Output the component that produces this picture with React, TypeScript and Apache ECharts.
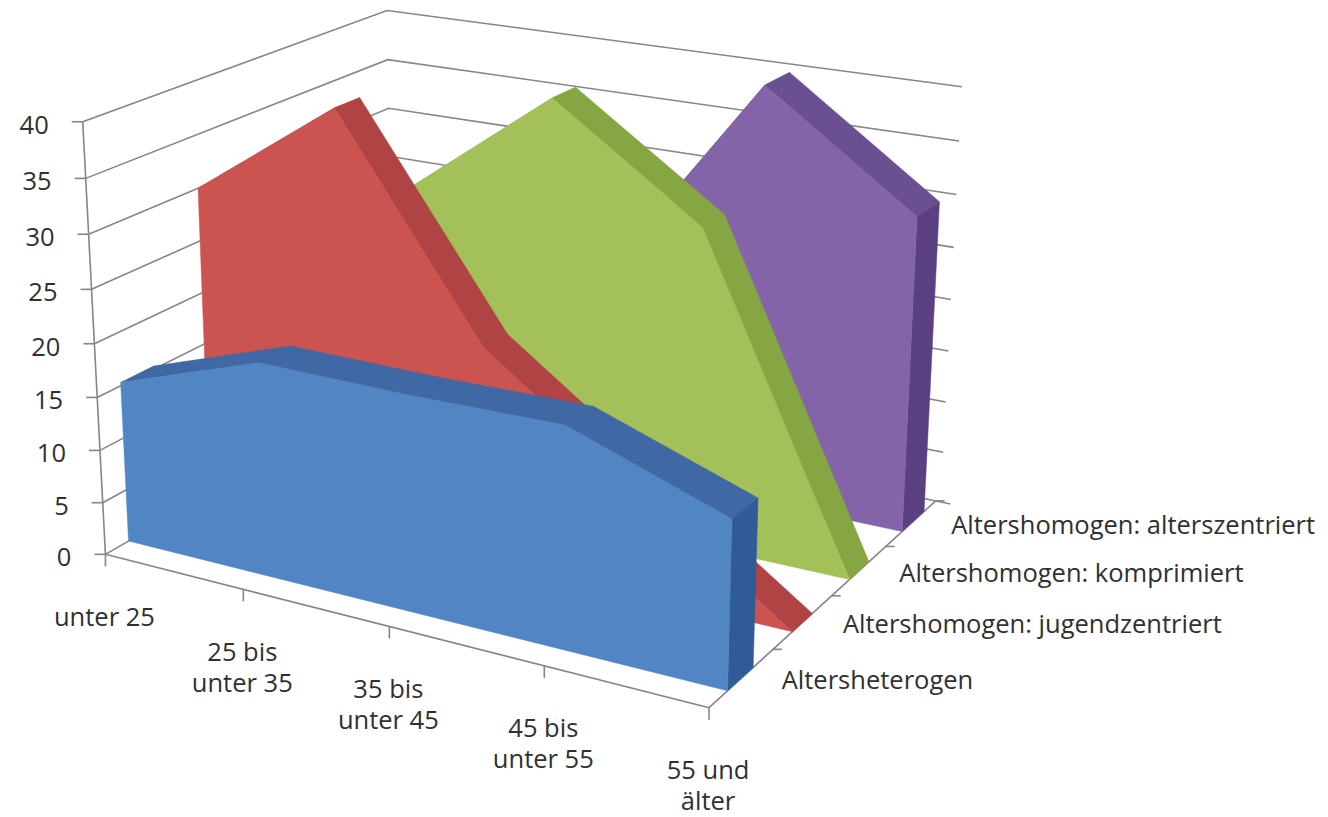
import React, { useEffect, useRef } from "react";
import * as echarts from "echarts";

const categories = ["unter 25", "25 bis\nunter 35", "35 bis\nunter 45", "45 bis\nunter 55", "55 und\nälter"];
const valueTicks = [0, 5, 10, 15, 20, 25, 30, 35, 40];
const seriesNames = [
  "Altersheterogen",
  "Altershomogen: jugendzentriert",
  "Altershomogen: komprimiert",
  "Altershomogen: alterszentriert",
];
const heterogen = [15.3, 19.9, 19.8, 20, 15];
const jugendzentriert = [30, 39.5, 20, 10, 0];
const komprimiert = [20, 29.1, 39.6, 30, 0];
const alterszentriert = [18, 20, 21, 40, 30];
const seriesValues = [heterogen, jugendzentriert, komprimiert, alterszentriert];

// Styling and view calibration (not data)
const frontColors = ["#5185C4", "#CB5350", "#A3C158", "#8364A8"];
const topColors = ["#3F68A5", "#B04343", "#86A543", "#6A5090"];
const sideColors = ["#2F5C97", "#C83A38", "#86A543", "#5A4080"];
const depthBands = [[0.07, 0.17], [0.33, 0.415], [0.58, 0.67], [0.83, 0.94]];
const AXIS_COLOR = "#868686";
const TEXT_COLOR = "#303030";
const FONT = "Open Sans";
const FONT_SIZE = 25.5;
const LINE_HEIGHT = 31;
const VMAX = 40;
const anchors: number[][] = [
  [0, 0, 0, 106, 554],
  [1, 0, 0, 710, 707],
  [0.5, 0, 0, 389, 627],
  [1, 1, 0, 935, 503],
  [0, 0, 1, 82, 123],
  [0, 0, 0.5, 94, 343],
  [0, 1, 1, 388, 10],
  [0, 1, 0.875, 388, 60],
  [0, 1, 0.75, 388, 108],
  [1, 1, 1, 957, 87],
  [1, 1, 0.5, 946, 296],
];

function solveProjection(): number[] {
  const rows: number[][] = [];
  const rhs: number[] = [];
  anchors.forEach(([u, d, v, x, y]) => {
    rows.push([u, d, v, 1, 0, 0, 0, 0, -x * u, -x * d, -x * v]);
    rhs.push(x);
    rows.push([0, 0, 0, 0, u, d, v, 1, -y * u, -y * d, -y * v]);
    rhs.push(y);
  });
  const n = 11;
  const m: number[][] = [];
  for (let i = 0; i < n; i++) {
    const r: number[] = [];
    for (let j = 0; j < n; j++) {
      let s = 0;
      rows.forEach((row) => (s += row[i] * row[j]));
      r.push(s);
    }
    let b = 0;
    rows.forEach((row, k) => (b += row[i] * rhs[k]));
    r.push(b);
    m.push(r);
  }
  for (let c = 0; c < n; c++) {
    let p = c;
    for (let r = c + 1; r < n; r++) if (Math.abs(m[r][c]) > Math.abs(m[p][c])) p = r;
    [m[c], m[p]] = [m[p], m[c]];
    for (let r = 0; r < n; r++) {
      if (r === c) continue;
      const f = m[r][c] / m[c][c];
      for (let k = c; k <= n; k++) m[r][k] -= f * m[c][k];
    }
  }
  return m.map((r, i) => r[n] / r[i]);
}

const P = solveProjection();
function project(u: number, d: number, value: number): number[] {
  const v = value / VMAX;
  const w = P[8] * u + P[9] * d + P[10] * v + 1;
  return [
    (P[0] * u + P[1] * d + P[2] * v + P[3]) / w,
    (P[4] * u + P[5] * d + P[6] * v + P[7]) / w,
  ];
}

const lineStyle = { stroke: AXIS_COLOR, lineWidth: 1.6, fill: "none" };
const line = (a: number[], b: number[]) => ({
  type: "polyline",
  shape: { points: [a, b] },
  style: lineStyle,
});
const label = (text: string, x: number, y: number, align: string, vAlign: string) => ({
  type: "text",
  style: {
    text, x, y, align, verticalAlign: vAlign,
    fontFamily: FONT, fontSize: FONT_SIZE, lineHeight: LINE_HEIGHT, fill: TEXT_COLOR,
  },
});

function renderFrame(params: any) {
  if (params.dataIndex !== 0) return null;
  const children: any[] = [];
  valueTicks.forEach((t) => {
    const a = project(0, 0, t);
    const b = project(0, 1, t);
    const c = project(1, 1, t);
    const len = Math.hypot(c[0] - b[0], c[1] - b[1]);
    const over = t === 0 ? 15 : 5;
    const ext = [c[0] + ((c[0] - b[0]) / len) * over, c[1] + ((c[1] - b[1]) / len) * over];
    children.push({
      type: "polyline",
      shape: { points: [a, b, ext] },
      style: lineStyle,
    });
    children.push(line(a, [a[0] - 11, a[1]]));
    children.push(label(String(t), a[0] - 34, a[1] + 2, "right", "middle"));
  });
  children.push(line(project(0, 0, 0), project(0, 0, VMAX)));
  children.push(line(project(0, 0, 0), project(1, 0, 0)));
  children.push(line(project(1, 0, 0), project(1, 1, 0)));
  categories.forEach((c, i) => {
    const p = project(i / (categories.length - 1), 0, 0);
    children.push(line(p, [p[0], p[1] + 12]));
    children.push(label(c, p[0] - 1, p[1] + 46, "center", "top"));
  });
  seriesNames.forEach((n, i) => {
    const p = project(1, (i + 0.5) / seriesNames.length, 0);
    const q = project(1, (i + 1) / seriesNames.length, 0);
    children.push(line(q, [q[0] + 9, q[1]]));
    children.push(label(n, p[0] + 40, p[1] + 1, "left", "middle"));
  });
  return { type: "group", children };
}

const renderArea = (si: number) => (params: any) => {
  if (params.dataIndex !== 0) return null;
  const vals = seriesValues[si];
  const [d0, d1] = depthBands[si];
  const last = vals.length - 1;
  const front = vals.map((v, i) => project(i / last, d0, v));
  const back = vals.map((v, i) => project(i / last, d1, v));
  const children: any[] = [];
  for (let i = 0; i < last; i++) {
    children.push({
      type: "polygon",
      shape: { points: [front[i], front[i + 1], back[i + 1], back[i]] },
      style: { fill: topColors[si], stroke: topColors[si], lineWidth: 0.5 },
    });
  }
  children.push({
    type: "polygon",
    shape: { points: [front[last], back[last], project(1, d1, 0), project(1, d0, 0)] },
    style: { fill: sideColors[si], stroke: sideColors[si], lineWidth: 0.5 },
  });
  children.push({
    type: "polygon",
    shape: { points: [...front, project(1, d0, 0), project(0, d0, 0)] },
    style: { fill: frontColors[si], stroke: frontColors[si], lineWidth: 0.5 },
  });
  return { type: "group", children };
};

export default function App() {
  const ref = useRef<HTMLDivElement>(null);
  useEffect(() => {
    document.body.style.margin = "0";
    const chart = echarts.init(ref.current!, null, { renderer: "svg" });
    chart.setOption({
      animation: false,
      backgroundColor: "#ffffff",
      series: [
        {
          type: "custom",
          name: "frame",
          coordinateSystem: "none",
          renderItem: renderFrame,
          data: [[0]],
          z: 1,
          silent: true,
        },
        ...[3, 2, 1, 0].map((si, k) => ({
          type: "custom",
          name: seriesNames[si],
          coordinateSystem: "none",
          renderItem: renderArea(si),
          data: seriesValues[si].map((v, i) => [i, v]),
          z: 2 + k,
          silent: true,
        })),
      ],
    });
    return () => chart.dispose();
  }, []);
  return <div ref={ref} style={{ width: 1328, height: 817 }} />;
}
